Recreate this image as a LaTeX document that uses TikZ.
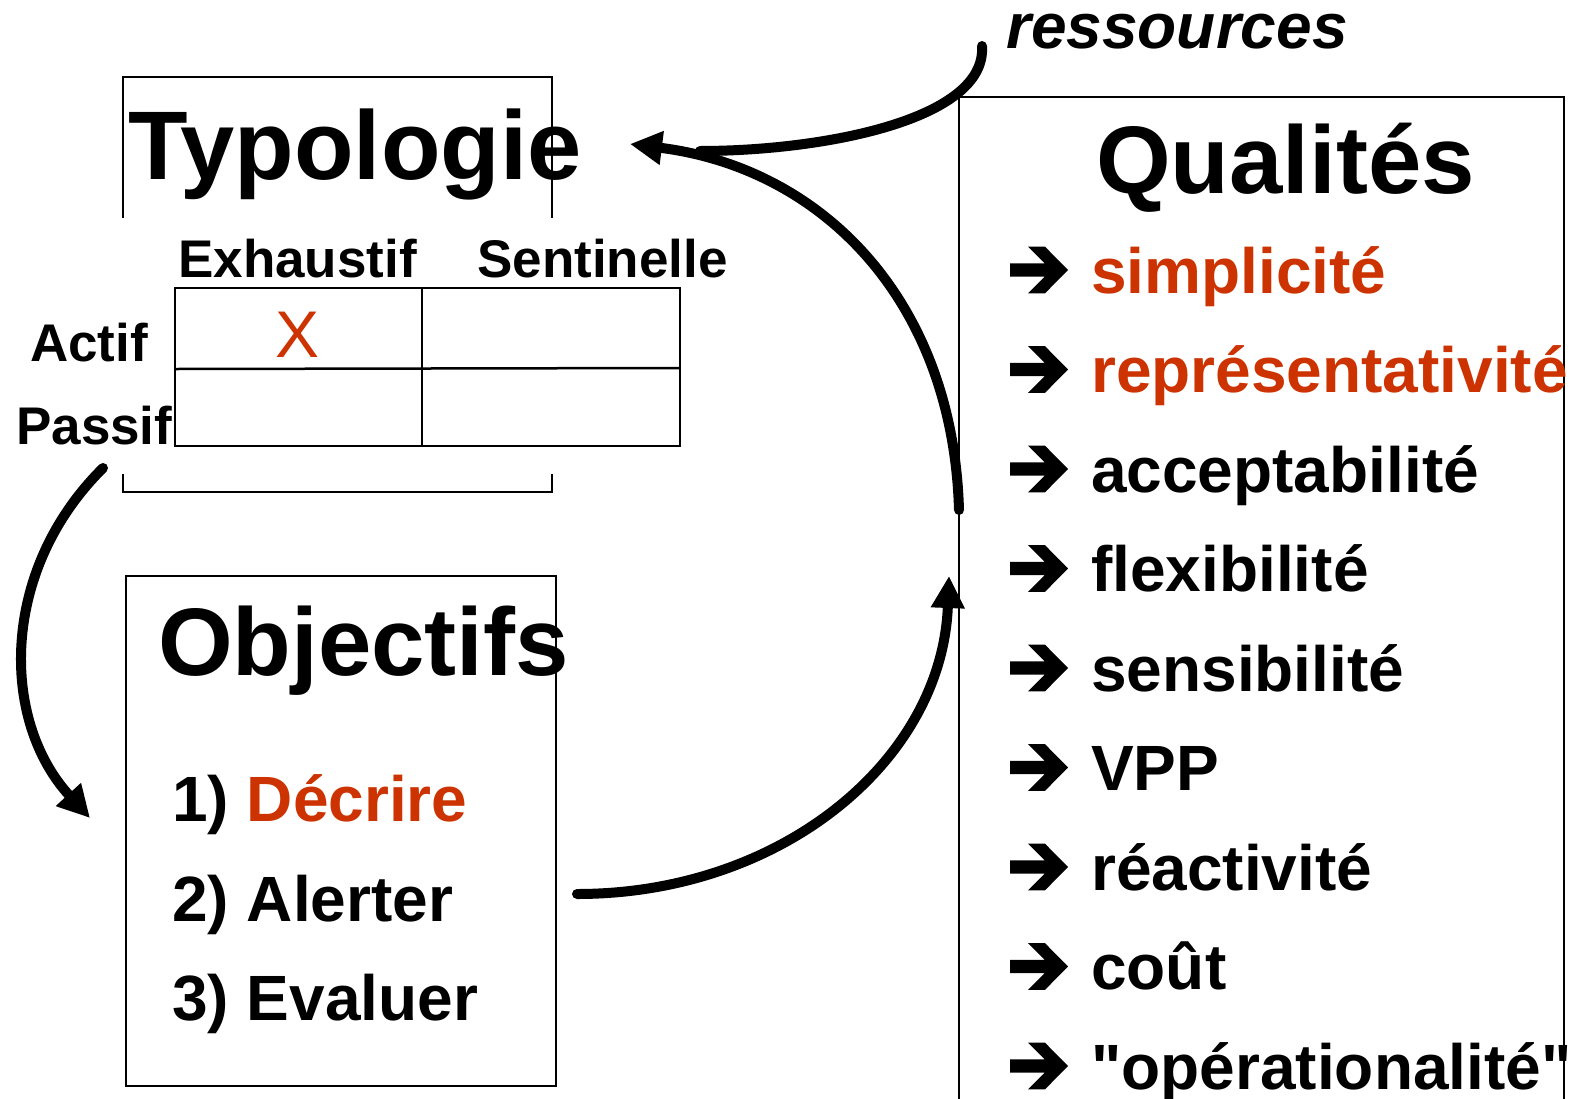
\documentclass[tikz,border=0pt]{standalone}
\usepackage{fontspec}
\setmainfont{Liberation Sans}[Ligatures=TeXOff]
\usetikzlibrary{arrows.meta}
\definecolor{rouge}{HTML}{CC3300}
\begin{document}
\begin{tikzpicture}[x=1pt,y=-1pt,
  txt/.style={inner sep=0pt, anchor=base west},
  big/.style={txt, font=\bfseries\fontsize{96}{96}\selectfont},
  mid/.style={txt, font=\bfseries\fontsize{64}{64}\selectfont},
  small/.style={txt, font=\bfseries\fontsize{53}{53}\selectfont},
  thin/.style={line width=2pt},
  grid/.style={line width=2.5pt},
  flow/.style={line width=10pt, line cap=round},
  head/.style={-{Triangle[length=32pt,width=32pt]}},
  bul/.pic={\fill (0,-6.7) -- (34.6,-6.7) -- (18,-23.3) -- (35,-23.3) -- (58,0) -- (35,23.3) -- (18,23.3) -- (34.6,6.7) -- (0,6.7) -- cycle;}
]
\useasboundingbox (0,0) rectangle (1576,1098);
\fill[white] (0,0) rectangle (1576,1098);

% ---- Typologie
\node[big, font=\bfseries\fontsize{97.5}{97.5}\selectfont] (typo) at (128,179) {Typologie};
\draw[thin] (123,218) -- (123,77) -- (552,77) -- (552,218);
\draw[thin] (123,474) -- (123,492) -- (552,492) -- (552,474);
\node[small] (exh) at (178,277) {Exhaustif};
\node[small] (sen) at (477,277) {Sentinelle};
\node[small] (act) at (30,361) {Actif};
\node[small] (pas) at (16,444) {Passif};
\draw[grid] (175,288) rectangle (680,446);
\draw[grid] (175,369) -- (680,368);
\draw[grid] (422,288) -- (422,446);
\node[inner sep=0pt, anchor=base, text=rouge, font=\fontsize{66}{66}\selectfont] (x) at (298,357) {X};

% ---- Objectifs
\draw[thin] (126,576) rectangle (556,1086);
\node[big] (obj) at (158,675) {Objectifs};
\node[mid] (o1) at (172,821) {1) \textcolor{rouge}{Décrire}};
\node[mid] (o2) at (172,921) {2) Alerter};
\node[mid] (o3) at (172,1020) {3) Evaluer};

% ---- Qualités
\draw[thin] (959,1110) -- (959,97) -- (1564,97) -- (1564,1110);
\node[big] (qual) at (1096,193) {Qualités};
\pic at (1010,270) {bul};
\node[mid, text=rouge] (q1) at (1091,293) {simplicité};
\pic at (1010,369.5) {bul};
\node[mid, text=rouge] (q2) at (1091,392.5) {représentativité};
\pic at (1010,469) {bul};
\node[mid] (q3) at (1091,492) {acceptabilité};
\pic at (1010,568.5) {bul};
\node[mid] (q4) at (1091,591.5) {flexibilité};
\pic at (1010,668) {bul};
\node[mid] (q5) at (1091,691) {sensibilité};
\pic at (1010,767.5) {bul};
\node[mid] (q6) at (1091,790.5) {VPP};
\pic at (1010,867) {bul};
\node[mid] (q7) at (1091,890) {réactivité};
\pic at (1010,966.5) {bul};
\node[mid] (q8) at (1091,989.5) {coût};
\pic at (1010,1066) {bul};
\node[mid] (q9) at (1091,1089) {"opérationalité"};

% ---- ressources
\node[txt, font=\bfseries\itshape\fontsize{64}{64}\selectfont] (res) at (1006,48) {ressources};

% ---- connectors
\coordinate (resA) at (982,46);
\coordinate (resB) at (700,151);
\coordinate (qualA) at (959,510);
\coordinate (typoTip) at (630,144);
\coordinate (objA) at (577,894);
\coordinate (qualTip) at (949,576);
\coordinate (pasA) at (103,468);
\coordinate (objTip) at (90,818);

\draw[flow] (resA) .. controls (987,120) and (822,151) .. (resB);
\draw[flow, head] (qualA) .. controls (953,300) and (822,168) .. (typoTip);
\draw[flow, head] (objA) .. controls (782,894) and (942,760) .. (qualTip);
\draw[flow, head] (pasA) .. controls (0,570) and (0,720) .. (objTip);
\end{tikzpicture}
\end{document}
